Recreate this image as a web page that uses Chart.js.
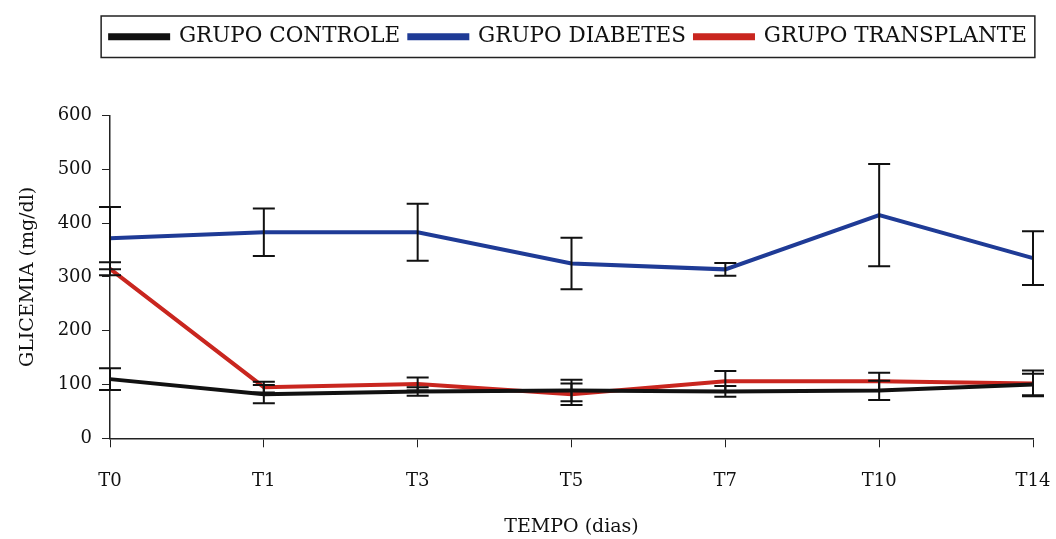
<!DOCTYPE html>
<html>
<head>
<meta charset="utf-8">
<script src="https://cdn.jsdelivr.net/npm/chart.js@4/dist/chart.umd.min.js"></script>
<style>
  body { margin: 0; background: #fff; }
</style>
</head>
<body>
<canvas id="canvas" width="1056" height="539"></canvas>
<script>
const tempos = ["T0", "T1", "T3", "T5", "T7", "T10", "T14"];

const controle = [110, 82, 87, 89, 87, 89, 100];
const controleErr = [20, 17, 8, 20, 10, 18, 20];

const diabetes = [372, 383, 383, 325, 314, 415, 335];
const diabetesErr = [58, 44, 53, 48, 12, 95, 50];

const transplante = [315, 95, 101, 82, 106, 106, 102];
const transplanteErr = [12, 10, 12, 20, 19, 16, 24];

const serif = "'DejaVu Serif', 'Liberation Serif', serif";
const legendShift = 52;

// desenha as barras de erro em cima das linhas
const errorBars = {
  id: "errorBars",
  afterDatasetsDraw(chart) {
    const ctx = chart.ctx;
    const y = chart.scales.y;
    ctx.save();
    ctx.strokeStyle = "#111";
    ctx.lineWidth = 2;
    chart.data.datasets.forEach(function (ds, i) {
      const meta = chart.getDatasetMeta(i);
      meta.data.forEach(function (pt, j) {
        const v = ds.data[j];
        const e = ds.err[j];
        const top = y.getPixelForValue(v + e);
        const bot = y.getPixelForValue(v - e);
        ctx.beginPath();
        ctx.moveTo(pt.x, top);
        ctx.lineTo(pt.x, bot);
        ctx.moveTo(pt.x - 11, top);
        ctx.lineTo(pt.x + 11, top);
        ctx.moveTo(pt.x - 11, bot);
        ctx.lineTo(pt.x + 11, bot);
        ctx.stroke();
      });
    });
    ctx.restore();
  },
};

// legenda centrada sobre o gráfico e com moldura
const legendBox = {
  id: "legendBox",
  afterUpdate(chart) {
    const lg = chart.legend;
    lg.left += legendShift;
    lg.right += legendShift;
    lg.legendHitBoxes.forEach(function (h) {
      h.left += legendShift;
    });
  },
  afterDraw(chart) {
    const boxes = chart.legend.legendHitBoxes;
    if (!boxes || !boxes.length) return;
    let l = Infinity, r = -Infinity, t = Infinity, b = -Infinity;
    boxes.forEach(function (h) {
      l = Math.min(l, h.left);
      r = Math.max(r, h.left + h.width);
      t = Math.min(t, h.top);
      b = Math.max(b, h.top + h.height);
    });
    const ctx = chart.ctx;
    ctx.save();
    ctx.strokeStyle = "#222";
    ctx.lineWidth = 1.5;
    ctx.strokeRect(l - 9, t - 10, r - l + 17, b - t + 20);
    ctx.restore();
  },
};

const ctx = document.getElementById("canvas").getContext("2d");
const myChart = new Chart(ctx, {
  type: "line",
  data: {
    labels: tempos,
    datasets: [
      {
        label: "GRUPO CONTROLE",
        data: controle,
        err: controleErr,
        borderColor: "#111111",
        backgroundColor: "#111111",
        borderWidth: 4,
      },
      {
        label: "GRUPO DIABETES",
        data: diabetes,
        err: diabetesErr,
        borderColor: "#1f3b96",
        backgroundColor: "#1f3b96",
        borderWidth: 4,
      },
      {
        label: "GRUPO TRANSPLANTE",
        data: transplante,
        err: transplanteErr,
        borderColor: "#c9261f",
        backgroundColor: "#c9261f",
        borderWidth: 4,
      },
    ],
  },
  options: {
    responsive: false,
    animation: false,
    layout: { padding: { top: 17, right: 23, bottom: 1, left: 0 } },
    elements: { point: { radius: 0 }, line: { tension: 0 } },
    plugins: {
      tooltip: { enabled: false },
      legend: {
        position: "top",
        labels: {
          color: "#111",
          font: { family: serif, size: 21.5 },
          boxWidth: 58,
          boxHeight: 3,
          padding: 9,
        },
      },
      // espaço vazio entre a legenda e o gráfico
      title: {
        display: true,
        text: "",
        weight: 500,
        font: { size: 10 },
        padding: { top: 0, bottom: 46 },
      },
    },
    scales: {
      x: {
        offset: false,
        grid: { drawOnChartArea: false, tickLength: 9, color: "#222" },
        border: { color: "#222", width: 1.5 },
        // lineHeight alto para afastar os rótulos do eixo
        ticks: { color: "#111", font: { family: serif, size: 18, lineHeight: 3.55 }, padding: 2 },
        title: {
          display: true,
          text: "TEMPO (dias)",
          color: "#111",
          font: { family: serif, size: 19 },
          padding: { top: 0, bottom: 0 },
        },
      },
      y: {
        min: 0,
        max: 600,
        afterFit(scale) {
          scale.width = 110;
        },
        grid: { drawOnChartArea: false, tickLength: 8, color: "#222" },
        border: { color: "#222", width: 1.5 },
        ticks: { stepSize: 100, color: "#111", font: { family: serif, size: 18 }, padding: 10 },
        title: {
          display: true,
          text: "GLICEMIA (mg/dl)",
          color: "#111",
          font: { family: serif, size: 19 },
          padding: { top: 17, bottom: 0 },
        },
      },
    },
  },
  plugins: [errorBars, legendBox],
});
</script>
</body>
</html>
